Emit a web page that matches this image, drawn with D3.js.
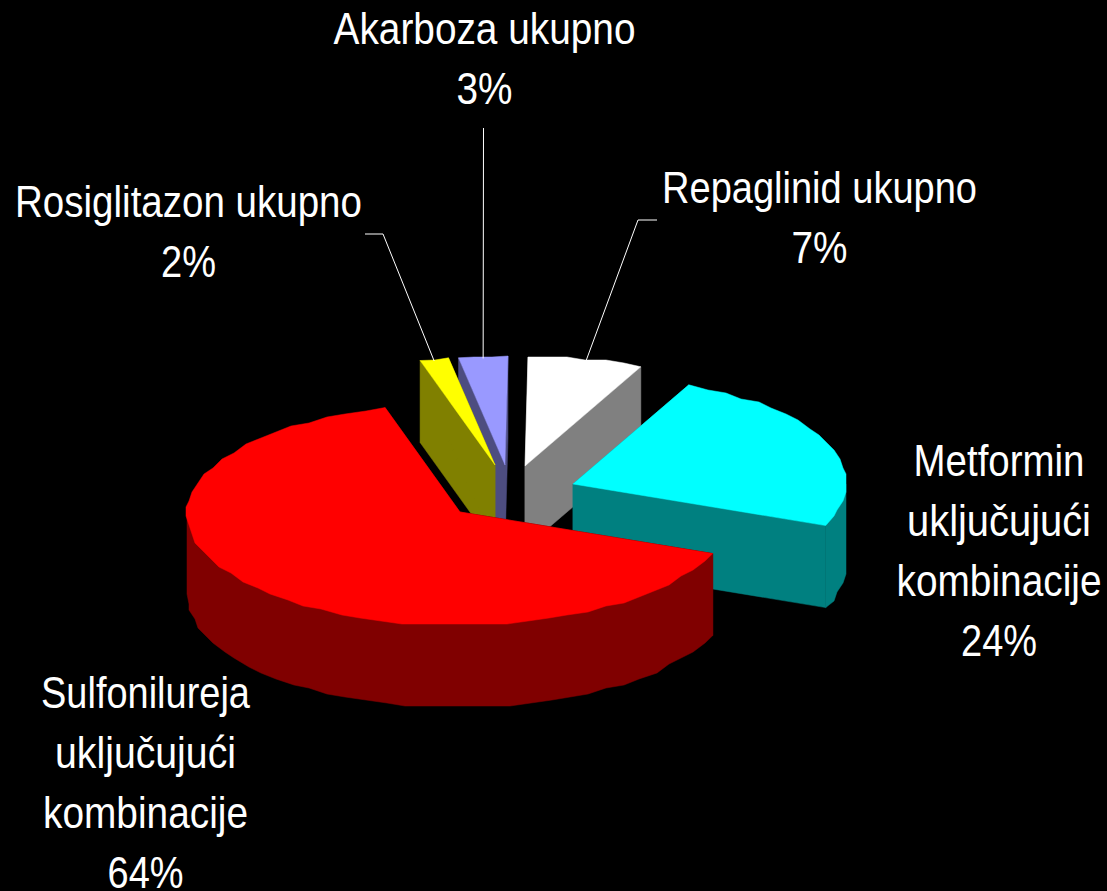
<!DOCTYPE html>
<html><head><meta charset="utf-8">
<script src="https://cdnjs.cloudflare.com/ajax/libs/d3/7.8.5/d3.min.js"></script>
<style>html,body{margin:0;padding:0;background:#000;overflow:hidden}svg{display:block}text{font-family:"Liberation Sans",Arial,sans-serif;fill:#fff}</style>
</head><body><svg id="c" width="1107" height="891"></svg>
<script>
const categories = ["Repaglinid ukupno","Metformin uključujući kombinacije","Sulfonilureja uključujući kombinacije","Rosiglitazon ukupno","Akarboza ukupno"];
const values = [6.8, 24.2, 64.4, 1.7, 2.9];
const labelLines = [["Repaglinid ukupno"],["Metformin","uključujući","kombinacije"],["Sulfonilureja","uključujući","kombinacije"],["Rosiglitazon ukupno"],["Akarboza ukupno"]];
const topColors = ["#ffffff","#00ffff","#ff0000","#ffff00","#9999ff"];
const sideColors = ["#808080","#008080","#800000","#808000","#4d4d80"];

const W=1107,H=891;
const svg=d3.select("#c").attr("viewBox",[0,0,W,H]);
svg.append("rect").attr("width",W).attr("height",H).attr("fill","#000");

const RX=273,RY_BACK=109,RY_FRONT=113,DEPTH=82,SKEW=3,STEP=4.5*Math.PI/180,GRID=3;
const centers=[[525,466],[573,484],[460,512],[495,465],[505,465]];
const labelPos=[[819.5,203],[999,476],[145.5,708],[188.5,217],[484.5,44]];
const labelWidths=[[315,56],[171,184,205,76],[209,181,205,76],[347,55],[302,56]];
const elbows=[[[657,220],[638,220]],null,null,[[365,234],[383,234]],[[483.5,128]]];

const pie=d3.pie().value(d=>d).sort(null).startAngle(0).endAngle(2*Math.PI);
const arcs=pie(values);
const line=d3.line();

function pt(c,a,z){
  const co=Math.cos(a);
  return [c[0]+RX*Math.sin(a)+SKEW*co, c[1]-(co>0?RY_BACK:RY_FRONT)*co+z];
}
function q(p){return [Math.round(p[0]/GRID)*GRID, Math.round(p[1]/GRID)*GRID];}
function arcPts(c,a0,a1,z){
  const n=Math.max(1,Math.ceil((a1-a0)/STEP));
  return d3.range(n+1).map(i=>{
    const p=pt(c,a0+(a1-a0)*i/n,0);
    const r=(i===0||i===n)?p:q(p);
    return [r[0],r[1]+z];
  });
}
function poly(points,fill){
  svg.append("path").attr("d",line(points)+"Z").attr("fill",fill).attr("stroke",fill).attr("stroke-width",0.5);
}
// back to front
[4,3,0,1,2].forEach(i=>{
  const d=arcs[i],c=centers[i];
  [d.startAngle,d.endAngle].forEach(a=>{
    const p=pt(c,a,0);
    poly([c,p,[p[0],p[1]+DEPTH],[c[0],c[1]+DEPTH]],sideColors[i]);
  });
  const r0=Math.max(d.startAngle,Math.PI/2),r1=Math.min(d.endAngle,1.5*Math.PI);
  if(r1>r0){
    const botA=arcPts(c,r0,r1,DEPTH);
    poly([c,pt(c,r0,0)].concat(botA,[pt(c,r1,0)]),sideColors[i]);
  }
  poly([c].concat(arcPts(c,d.startAngle,d.endAngle,0)),topColors[i]);
});

// leaders
arcs.forEach((d,i)=>{
  if(!elbows[i])return;
  const e=pt(centers[i],(d.startAngle+d.endAngle)/2,2);
  svg.append("path").attr("d",line(elbows[i].concat([e]))).attr("fill","none").attr("stroke","#fff").attr("stroke-width",1);
});

// labels
const FS=44,LH=60;
const fmt=d3.format(".0f");
arcs.forEach((d,i)=>{
  const lines=labelLines[i].concat([fmt(values[i])+"%"]);
  lines.forEach((t,k)=>{
    const el=svg.append("text").attr("text-anchor","middle").attr("font-size",FS).text(t);
    const sx=labelWidths[i][k]/el.node().getComputedTextLength();
    el.attr("transform",`translate(${labelPos[i][0]},${labelPos[i][1]+k*LH}) scale(${sx},1)`);
  });
});
</script></body></html>
